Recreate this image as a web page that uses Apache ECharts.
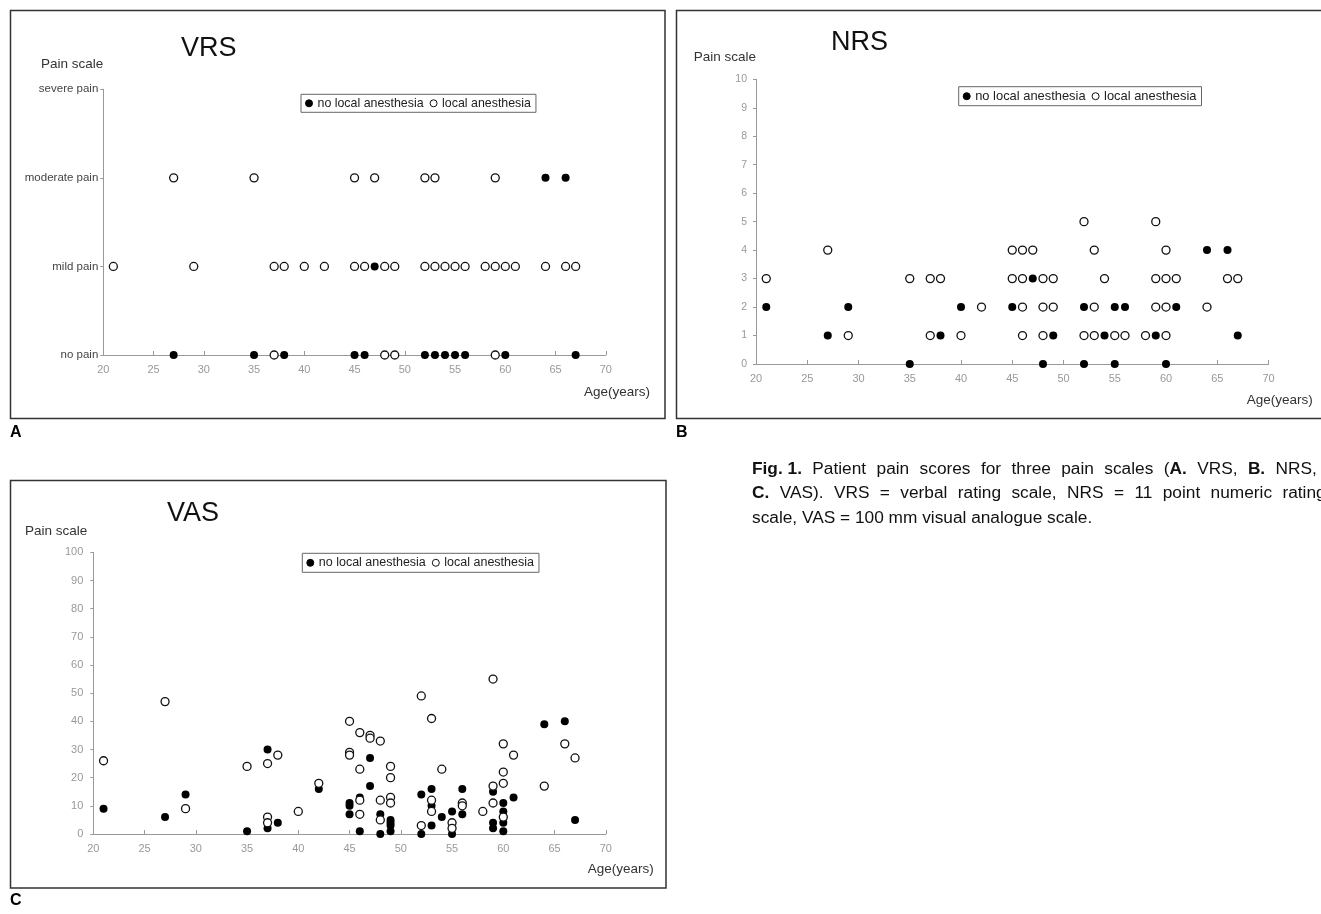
<!DOCTYPE html>
<html><head><meta charset="utf-8">
<script src="https://cdn.jsdelivr.net/npm/echarts@6/dist/echarts.min.js"></script>
<style>html,body{margin:0;padding:0;background:#fff;overflow:hidden}#c{width:1321px;height:914px}</style>
</head><body><div id="c"></div>
<script>
// ---------- data ----------
const ageTicks = [20, 25, 30, 35, 40, 45, 50, 55, 60, 65, 70];
const vrsLevels = ['no pain', 'mild pain', 'moderate pain', 'severe pain'];
const seriesNames = ['no local anesthesia', 'local anesthesia'];

// VRS: [age, level index]
const vrsNoLocal = [[64,2],[66,2],[47,1],
  [27,0],[35,0],[38,0],[45,0],[46,0],[52,0],[53,0],[54,0],[55,0],[56,0],[60,0],[67,0]];
const vrsLocal = [[27,2],[35,2],[45,2],[47,2],[52,2],[53,2],[59,2],
  [21,1],[29,1],[37,1],[38,1],[40,1],[42,1],[45,1],[46,1],[48,1],[49,1],[52,1],[53,1],[54,1],[55,1],[56,1],[58,1],[59,1],[60,1],[61,1],[64,1],[66,1],[67,1],
  [37,0],[48,0],[49,0],[59,0]];

// NRS: [age, score]
const nrsNoLocal = [[21,2],[27,1],[29,2],[35,0],[38,1],[40,2],[64,4],[66,4],[47,3],
  [45,2],[52,2],[55,2],[56,2],[61,2],[49,1],[54,1],[59,1],[67,1],[48,0],[52,0],[55,0],[60,0]];
const nrsLocal = [[21,3],[27,4],[29,1],[35,3],[37,3],[38,3],[37,1],[40,1],[42,2],
  [52,5],[59,5],[45,4],[46,4],[47,4],[53,4],[60,4],
  [45,3],[46,3],[48,3],[49,3],[54,3],[59,3],[60,3],[61,3],[66,3],[67,3],
  [46,2],[48,2],[49,2],[53,2],[59,2],[60,2],[64,2],
  [46,1],[48,1],[52,1],[53,1],[55,1],[56,1],[58,1],[60,1]];

// VAS: [age, mm]
const vasNoLocal = [[21,9],[27,6],[29,14],[35,1],[37,30],[37,2],[38,4],[42,16],
  [45,11],[45,10],[45,7],[46,13],[46,1],[47,27],[47,17],[48,7],[48,0],
  [49,5],[49,4],[49,3],[49,1],[52,14],[52,0],[53,16],[53,10],[53,3],[54,6],
  [55,8],[55,0],[56,16],[56,7],[59,15],[59,4],[59,2],[60,11],[60,8],[60,4],[60,1],
  [61,13],[64,39],[66,40],[67,5]];
const vasLocal = [[21,26],[27,47],[29,9],[35,24],[37,25],[37,6],[37,4],[38,28],[40,8],[42,18],
  [45,40],[45,29],[45,28],[46,36],[46,23],[46,12],[46,7],[47,35],[47,34],[48,33],[48,12],[48,5],
  [49,24],[49,20],[49,13],[49,11],[52,49],[52,3],[53,41],[53,12],[53,8],[54,23],[55,4],[55,2],
  [56,11],[56,10],[58,8],[59,55],[59,17],[59,11],[60,32],[60,22],[60,18],[60,6],
  [61,28],[64,17],[66,32],[67,27]];

const captionLines = [
  ['{b|Fig. 1.}', 'Patient', 'pain', 'scores', 'for', 'three', 'pain', 'scales', '({b|A.}', 'VRS,', '{b|B.}', 'NRS,'],
  ['{b|C.}', 'VAS).', 'VRS', '=', 'verbal', 'rating', 'scale,', 'NRS', '=', '11', 'point', 'numeric', 'rating'],
  ['scale, VAS = 100 mm visual analogue scale.']
];

// ---------- layout ----------
const FONT = 'Arial, "Liberation Sans", sans-serif';
const grids = [
  {left: 103.3, top: 89.3, width: 502.5, height: 265.7},
  {left: 756, top: 79.3, width: 512.5, height: 284.7},
  {left: 93.3, top: 552.3, width: 512.5, height: 281.7}
];

function xAxisCfg(i) {
  return {
    gridIndex: i, type: 'value', min: 20, max: 70, interval: 5,
    axisLine: {show: true, onZero: false, lineStyle: {color: '#999', width: 1}},
    axisTick: {show: true, inside: true, length: 4, lineStyle: {color: '#999'}},
    axisLabel: {color: '#999', fontSize: 11, fontFamily: FONT, margin: 9,
      formatter: v => ageTicks.includes(v) ? String(v) : ''},
    splitLine: {show: false}
  };
}
function yAxisCfg(i, extra) {
  return Object.assign({
    gridIndex: i, type: 'value',
    axisLine: {show: true, lineStyle: {color: '#999', width: 1}},
    axisTick: {show: true, inside: false, length: 3, lineStyle: {color: '#999'}},
    splitLine: {show: false},
    name: 'Pain scale', nameLocation: 'end'
  }, extra);
}

const openStyle = {color: '#fff', borderColor: '#111', borderWidth: 1.3, opacity: 1};
const fillStyle = {color: '#000', borderColor: '#000', borderWidth: 0, opacity: 1};
function sc(name, data, i, style) {
  return {name: name, type: 'scatter', xAxisIndex: i, yAxisIndex: i, data: data,
    symbol: 'circle', symbolSize: 8, itemStyle: style, emphasis: {disabled: true},
    z: name === seriesNames[0] ? 3 : 4};
}
function legendCfg(left, top, fs) {
  return {left: left, top: top, orient: 'horizontal', data: seriesNames,
    itemWidth: 7, itemHeight: 7, itemGap: 6, padding: [3, 5, 3, 4],
    borderColor: '#666', borderWidth: 1, backgroundColor: '#fff',
    icon: 'circle', selectedMode: false,
    itemStyle: {borderWidth: 1},
    textStyle: {color: '#222', fontSize: fs, fontFamily: FONT}};
}
function txt(x, y, t, size, extra) {
  return {type: 'text', silent: true, style: Object.assign({x: x, y: y, text: t, fill: '#111', fontSize: size,
    fontFamily: FONT, align: 'left', verticalAlign: 'middle'}, extra || {})};
}
const capSize = 17.3;
const capRich = {
  b: {fontWeight: 'bold', fontSize: capSize, fontFamily: FONT, fill: '#111'},
  s: {width: 10.4, fontSize: capSize, fontFamily: FONT}
};
const yNameStyle = {color: '#333', fontSize: 13.5, fontFamily: FONT, align: 'right'};

const option = {
  backgroundColor: '#fff',
  animation: false,
  grid: grids,
  xAxis: [xAxisCfg(0), xAxisCfg(1), xAxisCfg(2)],
  yAxis: [
    yAxisCfg(0, {min: 0, max: 3, interval: 1,
      axisLabel: {color: '#444', fontSize: 11.5, fontFamily: FONT, margin: 5, formatter: v => vrsLevels[v]},
      nameGap: 18, nameTextStyle: yNameStyle}),
    yAxisCfg(1, {min: 0, max: 10, interval: 1,
      axisLabel: {color: '#999', fontSize: 10.5, fontFamily: FONT, margin: 9},
      nameGap: 15, nameTextStyle: yNameStyle}),
    yAxisCfg(2, {min: 0, max: 100, interval: 10,
      axisLabel: {color: '#999', fontSize: 11, fontFamily: FONT, margin: 10},
      nameGap: 14, nameTextStyle: Object.assign({}, yNameStyle, {padding: [0, 6, 0, 0]})})
  ],
  legend: [legendCfg(301, 94.3, 12.4), legendCfg(958.7, 86.7, 12.9), legendCfg(302.3, 553.3, 12.5)],
  series: [
    sc(seriesNames[0], vrsNoLocal, 0, fillStyle), sc(seriesNames[1], vrsLocal, 0, openStyle),
    sc(seriesNames[0], nrsNoLocal, 1, fillStyle), sc(seriesNames[1], nrsLocal, 1, openStyle),
    sc(seriesNames[0], vasNoLocal, 2, fillStyle), sc(seriesNames[1], vasLocal, 2, openStyle)
  ],
  graphic: [
    {type: 'rect', silent: true, shape: {x: 10.5, y: 10.5, width: 654.5, height: 408}, style: {fill: 'none', stroke: '#333', lineWidth: 1.5}},
    {type: 'rect', silent: true, shape: {x: 676.5, y: 10.5, width: 660, height: 408}, style: {fill: 'none', stroke: '#333', lineWidth: 1.5}},
    {type: 'rect', silent: true, shape: {x: 10.5, y: 480.5, width: 655.5, height: 407.5}, style: {fill: 'none', stroke: '#333', lineWidth: 1.5}},
    txt(181, 49, 'VRS', 27),
    txt(831, 42.3, 'NRS', 27),
    txt(167, 513.3, 'VAS', 27),
    txt(584, 392.7, 'Age(years)', 13.5, {fill: '#333'}),
    txt(1246.7, 400, 'Age(years)', 13.5, {fill: '#333'}),
    txt(587.7, 869.3, 'Age(years)', 13.5, {fill: '#333'}),
    txt(10, 433, 'A', 16, {fill: '#000', fontWeight: 'bold'}),
    txt(676, 433, 'B', 16, {fill: '#000', fontWeight: 'bold'}),
    txt(10, 901, 'C', 16, {fill: '#000', fontWeight: 'bold'}),
    txt(752, 469, captionLines[0].join('{s| }'), capSize, {rich: capRich}),
    txt(752, 493.5, captionLines[1].join('{s| }'), capSize, {rich: capRich}),
    txt(752, 518, captionLines[2].join(' '), capSize, {rich: capRich})
  ]
};
const chart = echarts.init(document.getElementById('c'), null, {renderer: 'canvas'});
chart.setOption(option);
</script></body></html>
